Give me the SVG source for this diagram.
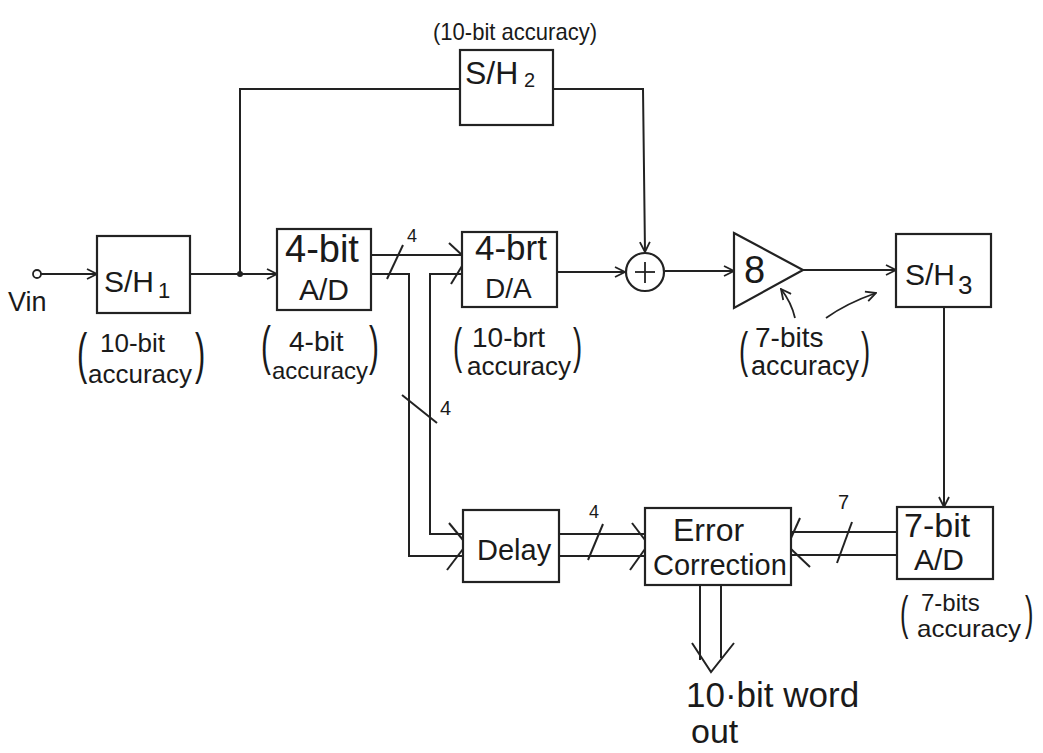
<svg xmlns="http://www.w3.org/2000/svg" width="1043" height="753" viewBox="0 0 1043 753">
<style>
.box{fill:#fff;stroke:#222;stroke-width:2.2}
.ln{fill:none;stroke:#222;stroke-width:2}
.thin{fill:none;stroke:#222;stroke-width:1.8}
text{font-family:"Liberation Sans","DejaVu Sans",sans-serif;fill:#1a1a1a}
.cap{font-size:26px}
.par{font-size:54px}
</style>
<defs>
<marker id="arr" viewBox="0 0 12 12" refX="11" refY="6" markerWidth="12" markerHeight="12" markerUnits="userSpaceOnUse" orient="auto">
<path d="M1,1 L11,6 L1,11" fill="none" stroke="#222" stroke-width="1.8"/>
</marker>
</defs>
<rect width="1043" height="753" fill="#fff"/>

<g id="connectors">
<circle cx="37" cy="274" r="4" class="thin"/>
<line x1="41" y1="274" x2="97" y2="274" class="ln" marker-end="url(#arr)"/>
<line x1="190" y1="274" x2="277" y2="274" class="ln" marker-end="url(#arr)"/>
<circle cx="240" cy="274" r="3" fill="#222"/>
<polyline points="240,274 240,89 460,89" class="ln"/>
<polyline points="553,89 643,89 645,252" class="ln" marker-end="url(#arr)"/>
<line x1="557" y1="272" x2="625" y2="272" class="ln" marker-end="url(#arr)"/>
<line x1="665" y1="271" x2="734" y2="271" class="ln" marker-end="url(#arr)"/>
<line x1="803" y1="270" x2="896" y2="270" class="ln" marker-end="url(#arr)"/>
<line x1="944" y1="307" x2="944" y2="507" class="ln" marker-end="url(#arr)"/>
<line x1="371" y1="255" x2="462" y2="255" class="ln"/>
<polyline points="371,274 409,274 409,556 462,556" class="ln"/>
<polyline points="462,274 430,274 430,534 462,534" class="ln"/>
<polyline points="449,243 462,255" class="ln"/>
<polyline points="451,284 462,266" class="ln"/>
<line x1="387" y1="279" x2="403" y2="245" class="ln"/>
<text x="407" y="242" style="font-size:18px">4</text>
<line x1="402" y1="395" x2="437" y2="423" class="ln"/>
<text x="440" y="415" style="font-size:20px">4</text>
<polyline points="449,523 463,540" class="ln"/>
<polyline points="447,570 463,549" class="ln"/>
<line x1="559" y1="534" x2="645" y2="534" class="ln"/>
<line x1="559" y1="556" x2="645" y2="556" class="ln"/>
<polyline points="632,523 645,540" class="ln"/>
<polyline points="630,570 645,549" class="ln"/>
<line x1="588" y1="560" x2="603" y2="524" class="ln"/>
<text x="589" y="518" style="font-size:18px">4</text>
<line x1="897" y1="532" x2="791" y2="532" class="ln"/>
<line x1="897" y1="555" x2="791" y2="555" class="ln"/>
<polyline points="800,518 791,538" class="ln"/>
<polyline points="791,549 810,567" class="ln"/>
<line x1="837" y1="563" x2="852" y2="522" class="ln"/>
<text x="838" y="509" style="font-size:20px">7</text>
<line x1="700" y1="585" x2="700" y2="660" class="ln"/>
<line x1="721" y1="585" x2="721" y2="658" class="ln"/>
<polyline points="692,643 711,672 734,643" class="ln"/>
<path d="M795,318 C792,305 788,298 781,289" class="thin" marker-end="url(#arr)"/>
<path d="M826,318 C840,308 856,300 876,293" class="thin" marker-end="url(#arr)"/>
</g>

<g id="vin"><text x="8" y="311" style="font-size:27px">Vin</text></g>

<g id="sh1">
<rect x="97" y="236" width="93" height="77" class="box"/>
<text x="104" y="292" style="font-size:30px">S/H</text>
<text x="158" y="298" style="font-size:22px">1</text>
</g>
<g id="sh1-cap">
<text transform="translate(77,372) scale(0.55,1)" class="par" style="font-size:56px">(</text>
<text x="100" y="352" class="cap">10-bit</text>
<text x="88" y="383" class="cap">accuracy</text>
<text transform="translate(195,372) scale(0.55,1)" class="par" style="font-size:56px">)</text>
</g>

<g id="sh2">
<rect x="460" y="50" width="93" height="75" class="box"/>
<text x="465" y="84" style="font-size:32px">S/H</text>
<text x="524" y="87" style="font-size:20px">2</text>
</g>
<g id="sh2-cap"><text x="433" y="40" style="font-size:24px" textLength="164" lengthAdjust="spacingAndGlyphs">(10-bit accuracy)</text></g>

<g id="ad4">
<rect x="277" y="229" width="94" height="81" class="box"/>
<text x="285" y="262" style="font-size:38px">4-bit</text>
<text x="299" y="300" style="font-size:30px">A/D</text>
</g>
<g id="ad4-cap">
<text transform="translate(261,364) scale(0.55,1)" class="par">(</text>
<text x="289" y="351" style="font-size:28px">4-bit</text>
<text x="272" y="379" style="font-size:24px">accuracy</text>
<text transform="translate(369,364) scale(0.55,1)" class="par">)</text>
</g>

<g id="da4">
<rect x="462" y="232" width="95" height="75" class="box"/>
<text x="475" y="260" style="font-size:35px">4-brt</text>
<text x="485" y="298" style="font-size:28px">D/A</text>
</g>
<g id="da4-cap">
<text transform="translate(453,363) scale(0.55,1)" class="par" style="font-size:50px">(</text>
<text x="472" y="347" style="font-size:28px">10-brt</text>
<text x="467" y="375" class="cap">accuracy</text>
<text transform="translate(573,363) scale(0.55,1)" class="par" style="font-size:50px">)</text>
</g>

<g id="summer">
<circle cx="645" cy="272" r="19" class="box"/>
<line x1="645" y1="262" x2="645" y2="283" class="thin"/>
<line x1="635" y1="272" x2="655" y2="272" class="thin"/>
</g>

<g id="amp">
<polygon points="734,233 803,270 734,308" class="box"/>
<text x="744" y="283" style="font-size:38px">8</text>
</g>
<g id="amp-cap">
<text transform="translate(739,367) scale(0.55,1)" class="par" style="font-size:50px">(</text>
<text x="755" y="347" style="font-size:28px">7-bits</text>
<text x="751" y="375" style="font-size:27px">accuracy</text>
<text transform="translate(861,367) scale(0.55,1)" class="par" style="font-size:50px">)</text>
</g>

<g id="sh3">
<rect x="896" y="234" width="95" height="73" class="box"/>
<text x="905" y="285" style="font-size:30px">S/H</text>
<text x="958" y="294" style="font-size:26px">3</text>
</g>

<g id="ad7">
<rect x="897" y="507" width="96" height="72" class="box"/>
<text x="904" y="537" style="font-size:34px">7-bit</text>
<text x="914" y="570" style="font-size:30px">A/D</text>
</g>
<g id="ad7-cap">
<text transform="translate(900,629) scale(0.55,1)" class="par" style="font-size:46px">(</text>
<text x="921" y="611" style="font-size:24px">7-bits</text>
<text x="917" y="637" style="font-size:24px" textLength="104" lengthAdjust="spacingAndGlyphs">accuracy</text>
<text transform="translate(1025,629) scale(0.55,1)" class="par" style="font-size:46px">)</text>
</g>

<g id="delay">
<rect x="463" y="510" width="96" height="72" class="box"/>
<text x="477" y="560" style="font-size:29px">Delay</text>
</g>

<g id="errcorr">
<rect x="645" y="508" width="146" height="77" class="box"/>
<text x="673" y="541" style="font-size:32px">Error</text>
<text x="653" y="575" style="font-size:29px">Correction</text>
</g>

<g id="output">
<text x="686" y="707" style="font-size:35px">10·bit word</text>
<text x="691" y="743" style="font-size:34px">out</text>
</g>
</svg>
